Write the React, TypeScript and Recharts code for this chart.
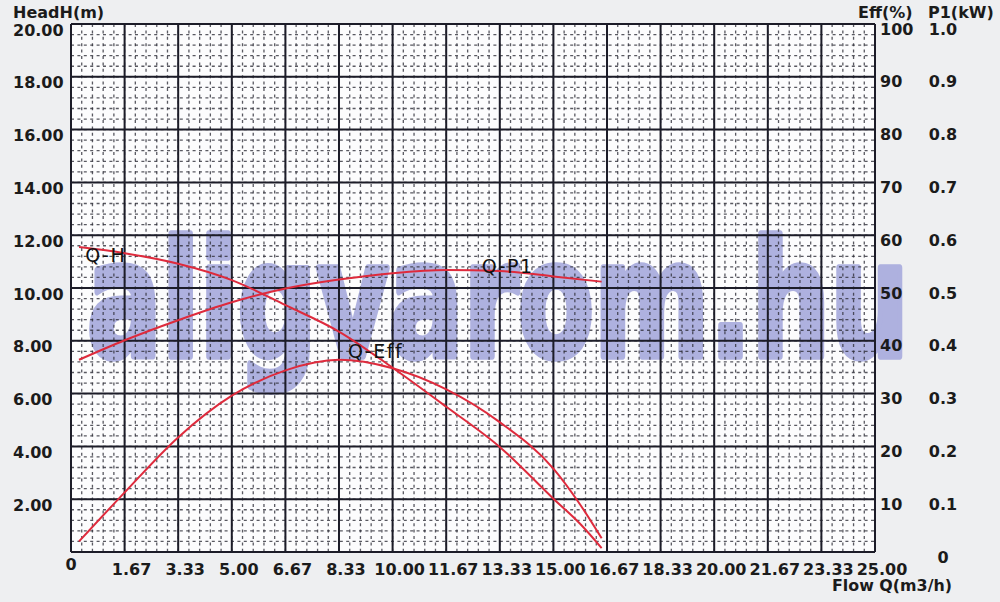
import React from 'react';
import { ComposedChart, Line, XAxis, YAxis, CartesianGrid, ReferenceDot } from 'recharts';

// ---- axis ticks ----
const flowTicks = [0, 1.667, 3.333, 5, 6.667, 8.333, 10, 11.667, 13.333, 15, 16.667, 18.333, 20, 21.667, 23.333, 25];
const flowTickLabels = ['0', '1.67', '3.33', '5.00', '6.67', '8.33', '10.00', '11.67', '13.33', '15.00', '16.67', '18.33', '20.00', '21.67', '23.33', '25.00'];
const headTicks = [0, 2, 4, 6, 8, 10, 12, 14, 16, 18, 20];
const headTickLabels = ['', '2.00', '4.00', '6.00', '8.00', '10.00', '12.00', '14.00', '16.00', '18.00', '20.00'];
const effTicks = [0, 10, 20, 30, 40, 50, 60, 70, 80, 90, 100];
const effTickLabels = ['', '10', '20', '30', '40', '50', '60', '70', '80', '90', '100'];
const powerTicks = [0, 0.1, 0.2, 0.3, 0.4, 0.5, 0.6, 0.7, 0.8, 0.9, 1.0];
const powerTickLabels = ['0', '0.1', '0.2', '0.3', '0.4', '0.5', '0.6', '0.7', '0.8', '0.9', '1.0'];

// ---- series (flow in m3/h) ----
const headFlow = [0.25, 1.67, 3.33, 5.0, 6.67, 8.33, 10.0, 11.67, 13.33, 15.0, 15.83, 16.5];
const headValues = [11.55, 11.32, 10.92, 10.3, 9.35, 8.35, 6.98, 5.5, 3.98, 2.02, 1.07, 0.15];

const effFlow = [0.25, 1.67, 3.33, 5.0, 6.67, 8.33, 10.0, 11.67, 13.33, 15.0, 15.83, 16.5];
const effValues = [2.0, 11.3, 21.7, 29.6, 34.4, 36.4, 34.8, 30.8, 24.6, 15.8, 9.0, 2.6];

const powerFlow = [0.25, 1.67, 3.33, 5.0, 6.67, 8.33, 10.0, 11.67, 13.33, 15.0, 16.5];
const powerValues = [0.364, 0.401, 0.439, 0.473, 0.499, 0.516, 0.528, 0.534, 0.532, 0.522, 0.512];

const headData = headFlow.map((q, i) => ({ q, v: headValues[i] }));
const effData = effFlow.map((q, i) => ({ q, v: effValues[i] }));
const powerData = powerFlow.map((q, i) => ({ q, v: powerValues[i] }));

// minor grid values (5 subdivisions per major cell)
const minorFlow: number[] = [];
for (let i = 0; i <= 75; i++) minorFlow.push((i * 25) / 75);
const minorHead: number[] = [];
for (let i = 0; i <= 50; i++) minorHead.push(i * 0.4);

const W = 1000;
const H = 602;
const PLOT = { left: 71, top: 24, right: 875, bottom: 552 };

const font = '"DejaVu Sans", Verdana, sans-serif';
const tickStyle: React.CSSProperties = { fontFamily: font, fontWeight: 700, fontSize: 16, fill: '#1b1b1b' };
const RED = '#de2a3c';

const HeadTick = (p: any) => (
  <text x={13} y={p.y + 6} textAnchor="start" dominantBaseline="central" style={tickStyle}>
    {headTickLabels[p.index]}
  </text>
);
const FlowTick = (p: any) => (
  <text x={p.index === 0 ? p.x : p.x + 7} y={p.y + (p.index === 0 ? 12 : 17)} textAnchor="middle" dominantBaseline="central" style={tickStyle}>
    {flowTickLabels[p.index]}
  </text>
);
const EffTick = (p: any) => (
  <text x={p.x + 5} y={p.y + 5} textAnchor="start" dominantBaseline="central" style={tickStyle}>
    {effTickLabels[p.index]}
  </text>
);
const PowerTick = (p: any) => (
  <text x={p.x + 13} y={p.y + 5} textAnchor="middle" dominantBaseline="central" style={tickStyle}>
    {powerTickLabels[p.index]}
  </text>
);

const curveLabel = (text: string) => (p: any) => {
  const vb = p.viewBox || {};
  return (
    <text x={vb.x} y={vb.y} textAnchor="start" dominantBaseline="central"
      style={{ fontFamily: font, fontSize: 19, letterSpacing: 1.5, fill: '#111' }}>
      {text}
    </text>
  );
};

export default function App() {
  return (
    <div style={{ position: 'absolute', left: 0, top: 0, width: W, height: H, background: '#eeeff1', overflow: 'hidden' }}>
      {/* plot background */}
      <div style={{ position: 'absolute', left: PLOT.left, top: PLOT.top, width: PLOT.right - PLOT.left, height: PLOT.bottom - PLOT.top, background: '#fcfcfd' }} />
      {/* watermark */}
      <svg width={W} height={H} style={{ position: 'absolute', left: 0, top: 0 }}>
        <g transform="translate(0 356) scale(1 1.07)">
          <text x={87} y={0} textLength={822} lengthAdjust="spacingAndGlyphs"
            style={{ fontFamily: font, fontWeight: 700, fontSize: 150, fill: '#aeb1df', stroke: '#aeb1df', strokeWidth: 7, strokeLinejoin: 'round' }}>
            aligvarom.hu
          </text>
        </g>
      </svg>
      <div style={{ position: 'absolute', left: 0, top: 0 }}>
        <ComposedChart width={W} height={H} margin={{ top: PLOT.top, right: 0, left: 0, bottom: 0 }}>
          <CartesianGrid yAxisId="head" horizontalValues={minorHead} verticalValues={minorFlow}
            stroke="#30303a" strokeWidth={1.3} strokeDasharray="3 3.4" strokeOpacity={0.8} />
          <CartesianGrid yAxisId="head" stroke="#1c1c28" strokeWidth={2} />
          <XAxis dataKey="q" type="number" domain={[0, 25]} ticks={flowTicks} interval={0}
            height={50} tickSize={0} tickMargin={0} axisLine={false} tick={FlowTick} allowDataOverflow />
          <YAxis yAxisId="head" orientation="left" type="number" domain={[0, 20]} ticks={headTicks} interval={0}
            width={71} tickSize={0} tickMargin={0} axisLine={false} tick={HeadTick} allowDataOverflow />
          <YAxis yAxisId="eff" orientation="right" type="number" domain={[0, 100]} ticks={effTicks} interval={0}
            width={55} tickSize={0} tickMargin={0} axisLine={false} tick={EffTick} allowDataOverflow />
          <YAxis yAxisId="power" orientation="right" type="number" domain={[0, 1]} ticks={powerTicks} interval={0}
            width={70} tickSize={0} tickMargin={0} axisLine={false} tick={PowerTick} allowDataOverflow />
          <Line data={headData} yAxisId="head" dataKey="v" type="monotone" stroke={RED} strokeWidth={2} dot={false} isAnimationActive={false} />
          <Line data={effData} yAxisId="eff" dataKey="v" type="monotone" stroke={RED} strokeWidth={2} dot={false} isAnimationActive={false} />
          <Line data={powerData} yAxisId="power" dataKey="v" type="monotone" stroke={RED} strokeWidth={2} dot={false} isAnimationActive={false} />
          <ReferenceDot yAxisId="head" x={0.44} y={11.25} r={0} fill="none" stroke="none" label={{ content: curveLabel('Q-H') }} />
          <ReferenceDot yAxisId="power" x={12.77} y={0.542} r={0} fill="none" stroke="none" label={{ content: curveLabel('Q-P1') }} />
          <ReferenceDot yAxisId="eff" x={8.61} y={38.1} r={0} fill="none" stroke="none" label={{ content: curveLabel('Q-Eff') }} />
        </ComposedChart>
      </div>
      {/* axis titles */}
      <svg width={W} height={H} style={{ position: 'absolute', left: 0, top: 0, pointerEvents: 'none' }}>
        <text x={13} y={12} dominantBaseline="central" style={tickStyle}>HeadH(m)</text>
        <text x={858} y={12} dominantBaseline="central" style={tickStyle}>Eff(%)</text>
        <text x={928} y={12} dominantBaseline="central" style={tickStyle}>P1(kW)</text>
        <text x={832} y={585} dominantBaseline="central" textLength={120} lengthAdjust="spacingAndGlyphs" style={tickStyle}>Flow Q(m3/h)</text>
      </svg>
    </div>
  );
}
